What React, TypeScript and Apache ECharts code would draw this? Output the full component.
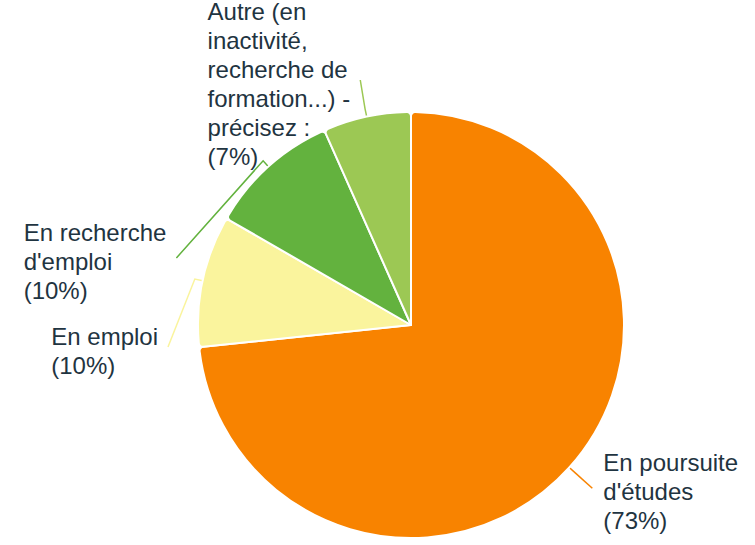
import React, { useEffect, useRef } from "react";
import * as echarts from "echarts";

// ---- data ----
const categories = [
  "En poursuite d'études",
  "En emploi",
  "En recherche d'emploi",
  "Autre (en inactivité, recherche de formation...) - précisez :",
];
const counts = [22, 3, 3, 2];
const sliceColors = ["#F88300", "#FAF49D", "#63B23E", "#9CC854"];

// ---- layout / style ----
const CX = 411;
const CY = 325;
const R = 213;
const LABEL_R = R + 31;
const labelAnchorY: (number | null)[] = [null, 347, 258, 80];
const FONT_SIZE = 24;
const LINE_H = 29;
const WRAP_W = 150;
const FONT_FAMILY = "Liberation Sans, Arial, sans-serif";
const TEXT_COLOR = "#1f3441";

let measureCtx: CanvasRenderingContext2D | null = null;
function measure(t: string): number {
  if (!measureCtx) {
    const c = document.createElement("canvas");
    measureCtx = c.getContext("2d");
  }
  if (!measureCtx) return t.length * FONT_SIZE * 0.55;
  measureCtx.font = `${FONT_SIZE}px "Liberation Sans", Arial, sans-serif`;
  return measureCtx.measureText(t).width;
}

function wrap(text: string): string {
  const words = text.split(" ");
  const lines: string[] = [];
  let cur = "";
  for (const w of words) {
    const cand = cur ? cur + " " + w : w;
    if (cur && measure(cand) > WRAP_W) {
      lines.push(cur);
      cur = w;
    } else {
      cur = cand;
    }
  }
  if (cur) lines.push(cur);
  return lines.join("\n");
}

function midAngle(i: number): number {
  const total = counts.reduce((a, b) => a + b, 0);
  let before = 0;
  for (let k = 0; k < i; k++) before += counts[k];
  return ((before + counts[i] / 2) / total) * Math.PI * 2;
}

function pt(theta: number, r: number): [number, number] {
  return [CX + r * Math.sin(theta), CY - r * Math.cos(theta)];
}

export default function App() {
  const ref = useRef<HTMLDivElement>(null);
  useEffect(() => {
    document.body.style.margin = "0";
    if (!ref.current) return;
    const chart = echarts.init(ref.current, undefined, { renderer: "svg" });
    chart.setOption({
      animation: false,
      backgroundColor: "#ffffff",
      series: [
        {
          type: "pie",
          center: [CX, CY],
          radius: [0, R],
          startAngle: 90,
          clockwise: true,
          avoidLabelOverlap: false,
          percentPrecision: 0,
          data: categories.map((name, i) => ({
            name,
            value: counts[i],
            itemStyle: { color: sliceColors[i] },
          })),
          itemStyle: {
            borderColor: "#ffffff",
            borderWidth: 2,
            borderRadius: 4,
          },
          label: {
            show: true,
            position: "outside",
            color: TEXT_COLOR,
            fontSize: FONT_SIZE,
            lineHeight: LINE_H,
            fontFamily: FONT_FAMILY,
            formatter: (p: any) => wrap(p.name) + "\n(" + p.percent + "%)",
          },
          labelLine: {
            show: true,
            length: 31,
            length2: 0,
            lineStyle: { width: 1.5 },
          },
          labelLayout: (params: any) => {
            const i = params.dataIndex;
            const th = midAngle(i);
            const p0 = pt(th, R);
            const p1 = pt(th, R + 8);
            let anchor: [number, number];
            const ay = labelAnchorY[i];
            if (ay == null) {
              anchor = pt(th, LABEL_R);
            } else {
              const dy = ay - CY;
              const side = Math.sin(th) >= 0 ? 1 : -1;
              if (Math.abs(dy) < LABEL_R) {
                anchor = [CX + side * Math.sqrt(LABEL_R * LABEL_R - dy * dy), ay];
              } else {
                anchor = [pt(th, LABEL_R)[0], ay];
              }
            }
            const right = Math.sin(th) >= 0;
            const w = params.labelRect.width;
            const x = right ? anchor[0] + 11 : anchor[0] - 10 - w;
            return {
              x,
              y: anchor[1] + 3.5,
              align: "left",
              verticalAlign: "middle",
              labelLinePoints: [p0, p1, anchor],
            };
          },
        },
      ],
    });
    return () => chart.dispose();
  }, []);
  return <div ref={ref} style={{ width: 755, height: 545 }} />;
}
